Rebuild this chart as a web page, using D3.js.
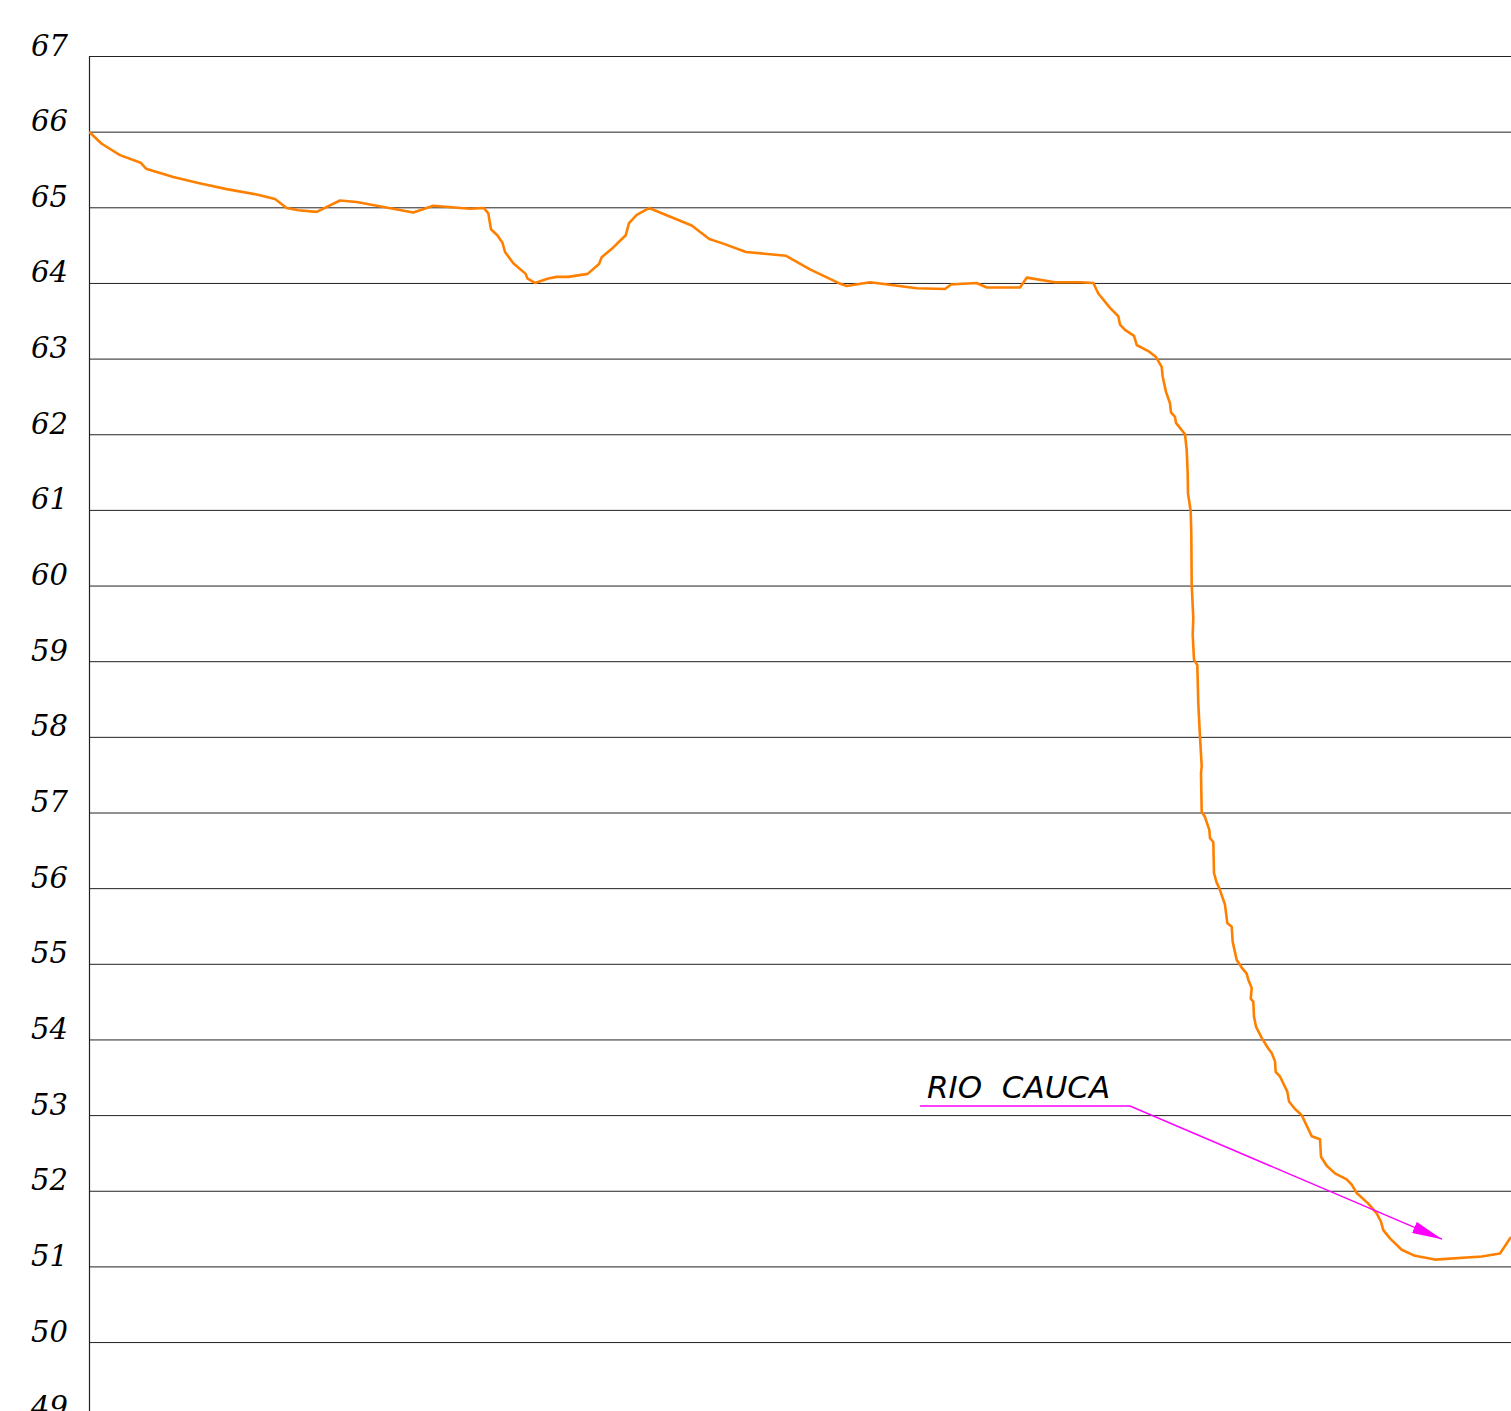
<!DOCTYPE html>
<html>
<head>
<meta charset="utf-8">
<script src="https://cdn.jsdelivr.net/npm/d3@7"></script>
<style>
  html, body { margin: 0; padding: 0; background: #fff; overflow: hidden; }
  .y.axis .tick line { stroke: #222; stroke-width: 1; }
  .y.axis .domain { stroke: #222; stroke-width: 1.2; }
  .y.axis text { font-family: "DejaVu Serif", serif; font-style: italic; font-size: 29px; fill: #000; }
  .profile { fill: none; stroke: #ff8000; stroke-width: 2.6; stroke-linejoin: round; }
  .leader { fill: none; stroke: #ff00ff; stroke-width: 1.5; }
  .label { font-family: "DejaVu Sans", sans-serif; font-weight: 200; font-style: italic; font-size: 31px; fill: #000; }
</style>
</head>
<body>
<div id="chart"></div>
<script>
// ground profile: distance (hm) and elevation (m)
const distance = [
  0, 1.27, 3.10, 5.17, 5.70, 8.43, 10.93, 13.77, 16.77, 18.60,
  19.77, 20.93, 22.77, 25.10, 26.77, 32.43, 34.43, 38.10, 39.50, 39.93,
  40.20, 40.83, 41.35, 41.60, 42.43, 43.67, 43.83, 44.60, 45.93, 46.77,
  47.93, 49.87, 51.00, 51.27, 52.43, 53.67, 54.00, 54.77, 56.00, 60.27,
  62.03, 63.43, 65.70, 69.67, 72.10, 74.93, 75.77, 78.10, 82.77, 85.60,
  86.20, 88.75, 89.77, 93.10, 93.77, 96.60, 99.10, 100.43, 100.93, 102.10,
  102.93, 103.10, 103.60, 104.50, 104.77, 105.93, 106.70, 107.27, 107.37, 107.70,
  108.10, 108.20, 108.60, 108.70, 109.60, 109.77, 109.87, 109.90, 110.17, 110.23,
  110.27, 110.43, 110.37, 110.50, 110.83, 110.93, 111.10, 111.27, 111.20, 111.27,
  111.60, 112.03, 112.10, 112.43, 112.50, 112.75, 113.03, 113.60, 113.83, 114.27,
  114.37, 114.77, 115.27, 115.77, 115.93, 116.27, 116.17, 116.43, 116.50, 116.70,
  117.27, 117.93, 118.27, 118.60, 118.67, 119.10, 119.83, 120.00, 120.60, 121.27,
  122.27, 123.10, 123.20, 123.77, 124.60, 125.77, 126.27, 126.77, 127.93, 128.77,
  129.20, 129.43, 130.10, 131.27, 132.60, 134.60, 139.27, 141.10, 142.20
]
const elevation = [
  66.00, 65.84, 65.69, 65.59, 65.51, 65.40, 65.32, 65.24, 65.17, 65.11,
  64.99, 64.96, 64.94, 65.09, 65.07, 64.93, 65.02, 64.98, 64.99, 64.92,
  64.71, 64.63, 64.53, 64.41, 64.26, 64.12, 64.06, 64.00, 64.06, 64.08,
  64.08, 64.12, 64.25, 64.34, 64.47, 64.63, 64.79, 64.90, 64.99, 64.76,
  64.58, 64.52, 64.41, 64.36, 64.18, 64.00, 63.96, 64.01, 63.93, 63.92,
  63.98, 64.00, 63.94, 63.94, 64.07, 64.01, 64.01, 64.00, 63.86, 63.67,
  63.56, 63.45, 63.38, 63.30, 63.18, 63.10, 63.02, 62.89, 62.76, 62.56,
  62.41, 62.29, 62.23, 62.15, 62.00, 61.79, 61.48, 61.22, 60.98, 60.69,
  60.01, 59.57, 59.35, 59.02, 58.95, 58.44, 58.00, 57.61, 57.52, 57.01,
  56.94, 56.77, 56.66, 56.61, 56.20, 56.08, 56.00, 55.78, 55.54, 55.49,
  55.29, 55.05, 54.95, 54.87, 54.79, 54.68, 54.54, 54.50, 54.30, 54.17,
  54.02, 53.88, 53.82, 53.71, 53.57, 53.51, 53.31, 53.18, 53.08, 53.00,
  52.72, 52.68, 52.45, 52.33, 52.23, 52.15, 52.08, 51.97, 51.83, 51.70,
  51.59, 51.48, 51.37, 51.22, 51.14, 51.09, 51.13, 51.17, 51.39
]

const yTicks = [49, 50, 51, 52, 53, 54, 55, 56, 57, 58, 59, 60, 61, 62, 63, 64, 65, 66, 67]

// river annotation: label anchor and leader line (distance, elevation)
const riverLabel = "RIO  CAUCA"
const labelAt = [83.8, 53.23]
const leader = [[83.1, 53.12], [104.1, 53.12], [135.3, 51.36]]

const totalWidth  = 1511
const totalHeight = 1411
const margin = {top: 56, left: 89}
const plotWidth  = totalWidth - margin.left
const rowHeight  = 75.65
const plotHeight = rowHeight * (d3.max(yTicks) - d3.min(yTicks))

const x = d3.scaleLinear().domain([0, 142.2]).range([0, plotWidth])
const y = d3.scaleLinear().domain([d3.min(yTicks), d3.max(yTicks)]).range([plotHeight, 0])

const svg = d3.select("#chart")
  .append("svg")
  .attr("width", totalWidth)
  .attr("height", totalHeight)

svg.append("defs").append("marker")
  .attr("id", "arrow")
  .attr("markerUnits", "userSpaceOnUse")
  .attr("viewBox", "0 0 30 12")
  .attr("refX", 30)
  .attr("refY", 6)
  .attr("markerWidth", 30)
  .attr("markerHeight", 12)
  .attr("orient", "auto")
  .append("path")
  .attr("d", "M0,0 L30,6 L0,12 Z")
  .attr("fill", "#ff00ff")

const g = svg.append("g")
  .attr("transform", "translate(" + margin.left + "," + margin.top + ")")

const yAxis = d3.axisLeft(y)
  .tickValues(yTicks)
  .tickSizeInner(-plotWidth)
  .tickSizeOuter(0)
  .tickFormat(d3.format("d"))

g.append("g")
  .attr("class", "y axis")
  .call(yAxis)
  .call(s => s.selectAll(".tick text")
    .attr("x", -21)
    .attr("dy", "-1px")
    .attr("text-anchor", "end"))

// clip the profile to the drawing area
g.append("clipPath").attr("id", "clip")
  .append("rect").attr("width", plotWidth).attr("height", plotHeight)

const points = distance.map((d, i) => ({x: d, y: elevation[i]}))

const line = d3.line()
  .x(d => x(d.x))
  .y(d => y(d.y))

g.append("path")
  .datum(points)
  .attr("class", "profile")
  .attr("clip-path", "url(#clip)")
  .attr("d", line)

g.append("path")
  .datum(leader)
  .attr("class", "leader")
  .attr("marker-end", "url(#arrow)")
  .attr("d", d3.line().x(d => x(d[0])).y(d => y(d[1])))

g.append("text")
  .attr("class", "label")
  .attr("x", x(labelAt[0]))
  .attr("y", y(labelAt[1]))
  .attr("xml:space", "preserve")
  .style("white-space", "pre")
  .text(riverLabel)
</script>
</body>
</html>
